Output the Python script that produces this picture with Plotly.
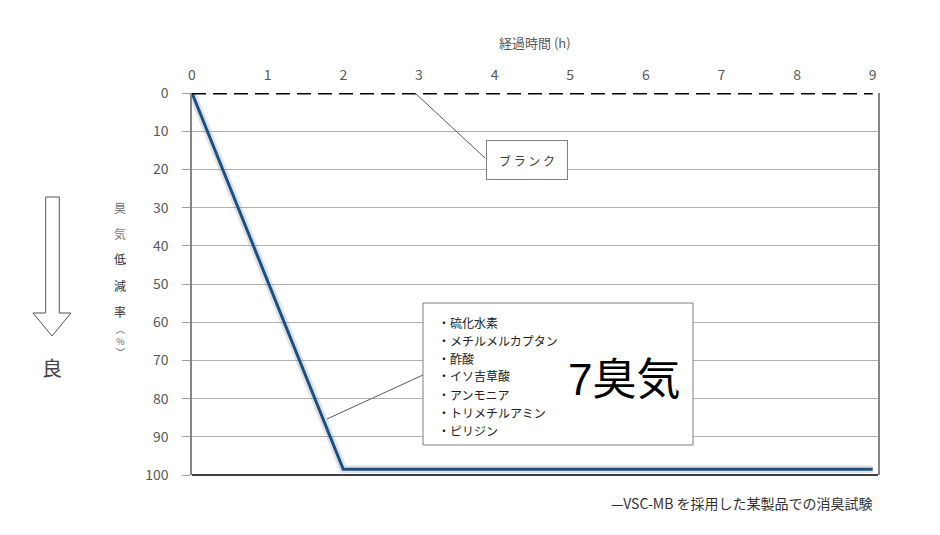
import plotly.graph_objects as go

# data
hours = [0, 1, 2, 3, 4, 5, 6, 7, 8, 9]
treated = [0, 49.2, 98.5, 98.5, 98.5, 98.5, 98.5, 98.5, 98.5, 98.5]
blank = [0, 0, 0, 0, 0, 0, 0, 0, 0, 0]
y_ticks = [0, 10, 20, 30, 40, 50, 60, 70, 80, 90, 100]
odors = ["硫化水素", "メチルメルカプタン", "酢酸", "イソ吉草酸", "アンモニア", "トリメチルアミン", "ピリジン"]
y_title_chars = ["臭", "気", "低", "減", "率"]

W, H = 940, 535
OFF = 8  # page offset of the plot div in the browser
L, R, T, B = 192 - OFF, 878 - OFF, 93 - OFF, 475 - OFF
FONT = "Noto Sans CJK JP"
GRAY = "#595959"


def px(x):
    return (x - OFF - L) / (R - L)


def py(y):
    return (B - (y - OFF)) / (B - T)


def note(text, x, y, size, color, **kw):
    d = dict(text=text, xref="paper", yref="paper", x=px(x), y=py(y),
             xanchor="center", yanchor="middle", showarrow=False,
             font=dict(size=size, color=color))
    d.update(kw)
    return d


fig = go.Figure()

# soft shadow under the blue line
fig.add_trace(go.Scatter(x=hours, y=treated, mode="lines",
                         line=dict(color="rgba(120,140,170,0.25)", width=8),
                         hoverinfo="skip", showlegend=False))
fig.add_trace(go.Scatter(x=hours, y=treated, mode="lines",
                         line=dict(color="#1c4f7f", width=3),
                         showlegend=False))
fig.add_trace(go.Scatter(x=hours, y=blank, mode="lines",
                         line=dict(color="black", width=3, dash="14px,7px"),
                         showlegend=False, cliponaxis=False))

shapes = []
# bottom axis line
shapes.append(dict(type="line", xref="paper", yref="paper", x0=0, x1=1, y0=0, y1=0,
                   line=dict(color="#404040", width=2)))
# leader lines
shapes.append(dict(type="line", xref="paper", yref="paper",
                   x0=px(415), y0=py(93), x1=px(485), y1=py(158),
                   line=dict(color=GRAY, width=1)))
shapes.append(dict(type="line", xref="paper", yref="paper",
                   x0=px(327), y0=py(419), x1=px(423), y1=py(375),
                   line=dict(color=GRAY, width=1)))
# big odor box
shapes.append(dict(type="rect", xref="paper", yref="paper",
                   x0=px(423), x1=px(693), y0=py(445), y1=py(303),
                   line=dict(color="#7f7f7f", width=1), fillcolor="white", layer="above"))
# hollow down arrow on the left
pts = [(45.7, 197), (59.3, 197), (59.3, 313), (71, 313), (52, 336), (33, 313), (45.7, 313)]
path = "M " + " L ".join(f"{px(a):.5f},{py(b):.5f}" for a, b in pts) + " Z"
shapes.append(dict(type="path", xref="paper", yref="paper", path=path,
                   line=dict(color="#555555", width=1), fillcolor="white"))

ann = []
ann.append(note("経過時間 (h)", 535, 42, 13, GRAY))
ann.append(note("ブ ラ ン ク", 527, 160, 12, "#404040",
                bgcolor="white", bordercolor="#7f7f7f", borderwidth=1,
                width=80, height=38, borderpad=0))
for i, name in enumerate(odors):
    ann.append(note("・" + name, 436, 322 + 18 * i, 12, "#222222", xanchor="left"))
ann.append(note("<span style='font-family:Liberation Sans'>7</span>臭気",
                624, 376, 44, "black"))
for i, ch in enumerate(y_title_chars):
    ann.append(note(ch, 120, 207 + 26 * i, 12, "#777777" if i < 2 else "#333333"))
ann.append(note("︵<br>%<br>︶", 120, 341, 9, "#666666"))
ann.append(note("良", 52, 367, 20, "#444444"))
ann.append(note("—VSC-MB を採用した某製品での消臭試験", 875, 503, 14, "#333333",
                xanchor="right"))

fig.update_layout(
    width=W, height=H,
    margin=dict(l=L, r=W - R, t=T, b=H - B),
    paper_bgcolor="white", plot_bgcolor="white",
    font=dict(family=FONT, size=13, color=GRAY),
    shapes=shapes, annotations=ann,
    xaxis=dict(side="top", range=[0, 9.07], tickmode="array", tickvals=hours,
               showgrid=False, zeroline=False, showline=False, ticks="",
               ticklabelstandoff=9, tickfont=dict(size=14, color=GRAY)),
    yaxis=dict(range=[100, 0], tickmode="array", tickvals=y_ticks,
               showgrid=True, gridcolor="#b0b0b0", gridwidth=1, zeroline=False,
               showline=True, linecolor="#868686", linewidth=1.5, mirror=True,
               ticks="outside", ticklen=8, tickcolor="#a0a0a0",
               ticklabelstandoff=11, tickfont=dict(size=14, color=GRAY)),
)

fig.write_html("out.html")
